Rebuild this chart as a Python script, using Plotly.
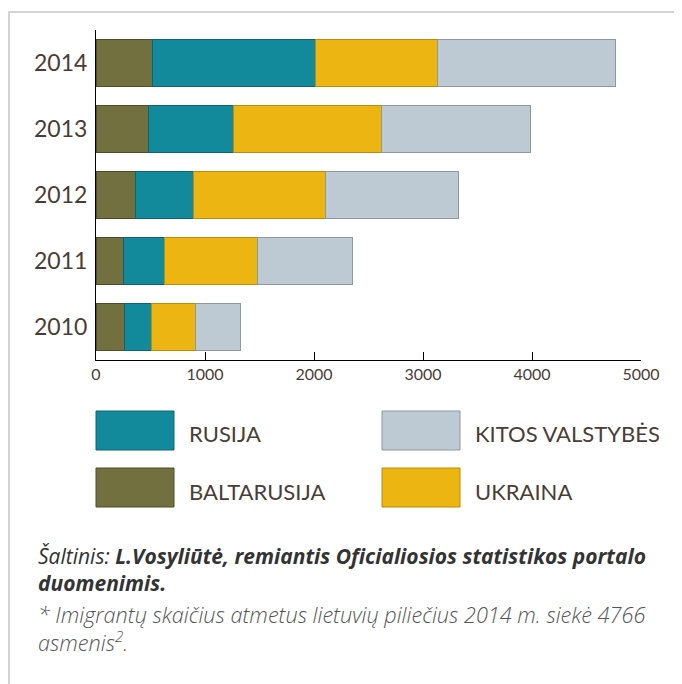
import plotly.graph_objects as go

# -------------------- DATA --------------------
years = ['2010', '2011', '2012', '2013', '2014']
baltarusija = [260, 249, 358, 485, 516]
rusija = [246, 376, 534, 772, 1499]
ukraina = [407, 860, 1215, 1366, 1121]
kitos = [411, 871, 1218, 1362, 1630]

x_ticks = [0, 1000, 2000, 3000, 4000, 5000]

# page body adds an 8px offset, so margins are shifted to compensate
OFF = 8
W, H = 682, 684
L, R, T, B = 96 - OFF, 41 + OFF, 30 - OFF, 324 + OFF
PW, PH = W - L - R, H - T - B

TEXT = '#4b3d36'
FONT = 'Lato'
FONT2 = 'Open Sans'

series = [
    ('BALTARUSIJA', baltarusija, '#737040', '#4f4c2b'),
    ('RUSIJA', rusija, '#138a9c', '#0b6672'),
    ('UKRAINA', ukraina, '#ecb512', '#b98c0a'),
    ('KITOS VALSTYBĖS', kitos, '#bdcad3', '#8d989f'),
]


def px(x):
    # screen x -> paper x
    return (x - OFF - L) / PW


def py(y):
    # screen y -> paper y
    return (OFF + H - B - y) / PH


fig = go.Figure()
for name, vals, col, edge in series:
    fig.add_trace(go.Bar(y=years, x=vals, orientation='h', name=name,
                         marker=dict(color=col, line=dict(color=edge, width=1))))

shapes = []
annotations = []

# legend boxes
legend = [
    ('RUSIJA', 96, 411, '#138a9c', '#0b6672'),
    ('KITOS VALSTYBĖS', 382, 411, '#bdcad3', '#8d989f'),
    ('BALTARUSIJA', 96, 468, '#737040', '#4f4c2b'),
    ('UKRAINA', 382, 468, '#ecb512', '#b98c0a'),
]
for name, x0, y0, col, edge in legend:
    shapes.append(dict(type='rect', xref='paper', yref='paper',
                       x0=px(x0), x1=px(x0 + 78), y0=py(y0), y1=py(y0 + 39),
                       fillcolor=col, line=dict(color=edge, width=1)))
    annotations.append(dict(xref='paper', yref='paper', x=px(x0 + 91), y=py(y0 + 23),
                            text=name, showarrow=False, xanchor='left', yanchor='middle',
                            font=dict(family=FONT, size=22, color=TEXT)))

# frame lines
shapes.append(dict(type='line', xref='paper', yref='paper',
                   x0=px(8), x1=px(W + 5), y0=py(12), y1=py(12),
                   line=dict(color='#d3d3d3', width=2)))
shapes.append(dict(type='line', xref='paper', yref='paper',
                   x0=px(9), x1=px(9), y0=py(12), y1=py(H + 5),
                   line=dict(color='#d3d3d3', width=2)))

# source text
src = [
    ('<i>Šaltinis: <b>L.Vosyliūtė, remiantis Oficialiosios statistikos portalo</b></i>', 556, '#333333', 400, 21),
    ('<i><b>duomenimis.</b></i>', 583, '#333333', 400, 21),
    ('<i>* Imigrantų skaičius atmetus lietuvių piliečius 2014 m. siekė 4766</i>', 614, '#555555', 300, 21.7),
    ('<i>asmenis<sup>2</sup>.</i>', 641, '#555555', 300, 21.7),
]
for txt, y, col, wt, sz in src:
    annotations.append(dict(xref='paper', yref='paper', x=px(36), y=py(y),
                            text=txt, showarrow=False, xanchor='left', yanchor='middle',
                            font=dict(family=FONT2, size=sz, color=col, weight=wt)))

fig.update_layout(
    barmode='stack',
    bargap=0.28,
    width=W, height=H,
    margin=dict(l=L, r=R, t=T, b=B),
    plot_bgcolor='white', paper_bgcolor='white',
    showlegend=False,
    shapes=shapes,
    annotations=annotations,
    font=dict(family=FONT, color=TEXT),
)
fig.update_xaxes(range=[0, 5000], tickvals=x_ticks, ticks='inside', ticklen=8,
                 tickcolor='black', showgrid=False, zeroline=False, automargin=False,
                 showline=True, linecolor='black', linewidth=1,
                 tickfont=dict(size=16, color=TEXT))
fig.update_yaxes(showgrid=False, showline=True, linecolor='black', linewidth=1,
                 ticks='', ticklabelstandoff=3, automargin=False,
                 tickfont=dict(size=23, color=TEXT))

fig.write_html("out.html")
